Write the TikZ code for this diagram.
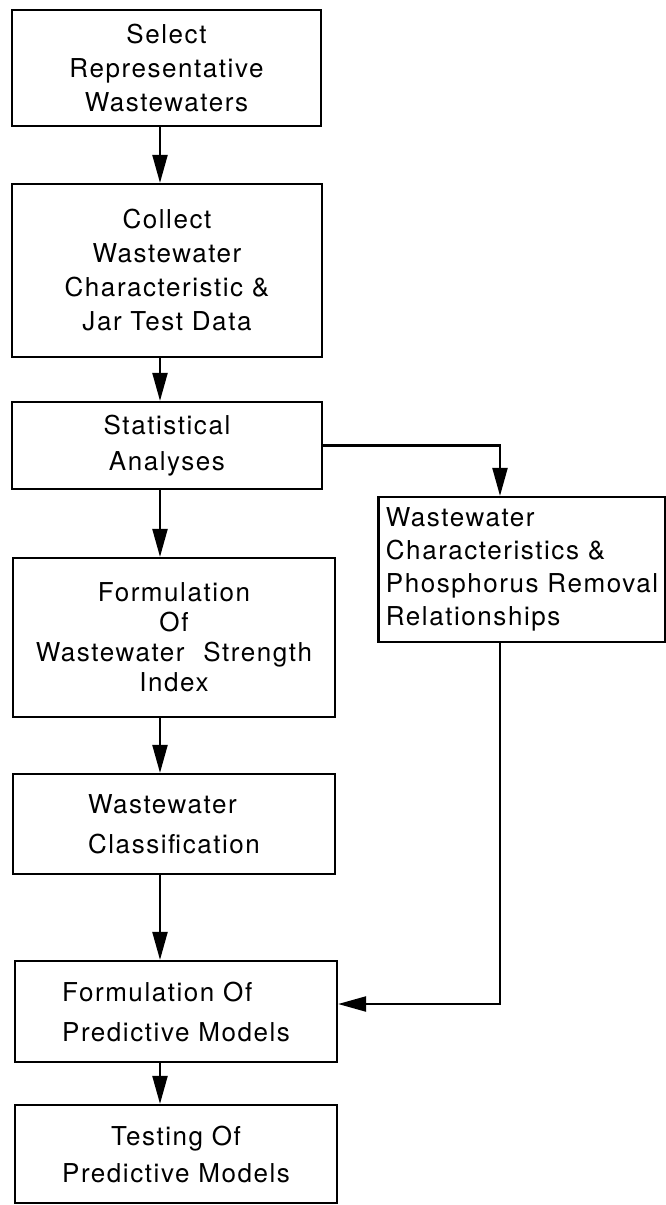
\documentclass[tikz,border=0pt]{standalone}
\usepackage{fontspec}
\setmainfont{TeX Gyre Heros}[LetterSpace=6]
\usetikzlibrary{arrows.meta}
\newcommand{\fs}[1]{\fontsize{13pt}{#1}\selectfont}
\begin{document}
\begin{tikzpicture}[x=0.5pt,y=-0.5pt,
  box/.style={draw, line width=1.1pt, inner sep=0pt, align=center, font=\fs{17pt}},
  lbox/.style={box, align=left},
  arr/.style={line width=1.1pt, -{Triangle[length=14pt,width=7.5pt]}}]
\useasboundingbox (0,0) rectangle (665,1205);
\coordinate (ax) at (160,0);
\coordinate (cx) at (500,0);
\coordinate (c2) at (500,1004);
\node[box, minimum width=154.5pt, minimum height=58pt] (b1) at (166.5,68)
  {Select\\Representative\\Wastewaters};
\node[box, minimum width=155pt, minimum height=86.5pt] (b2) at (167,270.5)
  {Collect\\Wastewater\\Characteristic \&\\Jar Test Data};
\node[box, minimum width=155pt, minimum height=43.5pt, font=\fs{18pt}] (b3) at (167,445.5)
  {Statistical\\Analyses};
\node[lbox, minimum width=143.5pt, minimum height=72.5pt, font=\fs{16.5pt}] (b4) at (522,569.5)
  {Wastewater\\Characteristics \&\\Phosphorus Removal\\Relationships};
\node[box, minimum width=161pt, minimum height=79.5pt, font=\fs{15pt}] (b5) at (174,637.5)
  {Formulation\\Of\\Wastewater\hspace{5pt} Strength\\Index};
\node[lbox, minimum width=161pt, minimum height=50pt, font=\fs{20pt}] (b6) at (174,824)
  {Wastewater\\Classification};
\node[lbox, minimum width=161pt, minimum height=50.5pt, font=\fs{20pt}] (b7) at (176,1011.5)
  {Formulation Of\\Predictive Models};
\node[box, minimum width=161pt, minimum height=49pt, font=\fs{18.5pt}] (b8) at (176,1154)
  {Testing Of\\Predictive Models};
\draw[arr] (b1.south -| ax) -- (b2.north -| ax);
\draw[arr] (b2.south -| ax) -- (b3.north -| ax);
\draw[arr] (b3.south -| ax) -- (b5.north -| ax);
\draw[arr] (b5.south -| ax) -- (b6.north -| ax);
\draw[arr] (b6.south -| ax) -- (b7.north -| ax);
\draw[arr] (b7.south -| ax) -- (b8.north -| ax);
\draw[arr] (b3.east) -| (b4.north -| cx);
\draw[arr] (b4.south -| cx) -- (c2) -- (b7.east |- c2);
\end{tikzpicture}
\end{document}
